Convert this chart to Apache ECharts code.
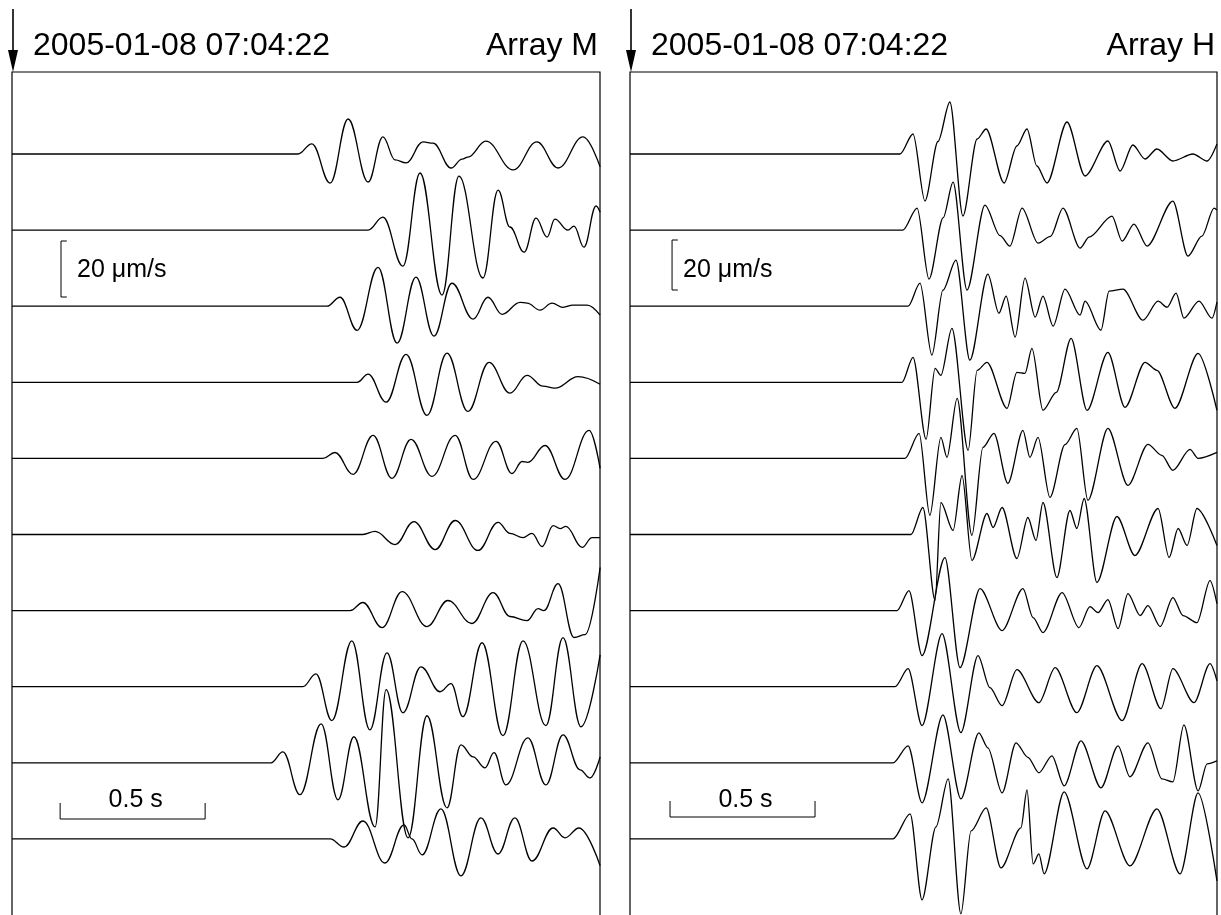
<!DOCTYPE html>
<html>
<head>
<meta charset="utf-8">
<script src="https://cdn.jsdelivr.net/npm/echarts/dist/echarts.min.js"></script>
<style>
html, body { margin: 0; padding: 0; background: #fff; }
#chart { width: 1221px; height: 915px; }
</style>
</head>
<body>
<div id="chart"></div>
<script>
// header texts
const timeLabel = '2005-01-08 07:04:22'
const arrayNames = ['Array M', 'Array H']
const ampLabel = '20 \u03bcm/s'
const timeBarLabel = '0.5 s'

// traces: [time (s), velocity (um/s)], top to bottom
const m1 = [[0,0],[0.986,0],[1.034,3.6],[1.097,-10.4],[1.159,12.5],[1.228,-10],[1.279,6.1],[1.321,-2.1],[1.359,-3.2],[1.417,4.3],[1.452,3.9],[1.514,-5],[1.552,-1.8],[1.572,-1.1],[1.634,4.6],[1.728,-5.7],[1.81,4.3],[1.883,-5],[1.969,6.1],[2.028,-4.6]]
const m2 = [[0,0],[1.228,0],[1.279,4.6],[1.348,-12.9],[1.407,20.4],[1.483,-23.2],[1.541,19.3],[1.624,-17.1],[1.676,14.3],[1.717,1.1],[1.766,-7.9],[1.807,4.3],[1.845,-2.5],[1.872,3.9],[1.917,0],[1.938,1.4],[1.972,-6.1],[2.014,8.6],[2.028,6.4]]
const m3 = [[0,0],[1.086,0],[1.131,3.2],[1.19,-8.6],[1.262,13.9],[1.328,-13.2],[1.393,10.4],[1.455,-10.7],[1.517,8.2],[1.59,-4.6],[1.641,3.2],[1.69,-2.9],[1.752,1.4],[1.776,1.1],[1.821,-1.4],[1.862,1.1],[1.9,-0.4],[1.934,0.4],[1.983,0.4],[2.028,-3.2]]
const m4 = [[0,0],[1.19,0],[1.228,2.9],[1.29,-7.1],[1.359,10],[1.431,-11.8],[1.5,10.4],[1.572,-10.4],[1.645,7.1],[1.717,-3.9],[1.776,2.5],[1.831,-1.4],[1.872,-2.1],[1.952,2],[2.028,-0.7]]
const m5 = [[0,0],[1.072,0],[1.114,2.1],[1.176,-5.7],[1.245,8.2],[1.31,-7.1],[1.376,6.8],[1.448,-6.4],[1.528,8.2],[1.59,-7.5],[1.669,6.1],[1.724,-5.4],[1.759,-1.1],[1.779,-1.4],[1.838,4.6],[1.907,-7.5],[1.99,10],[2.028,-3.6]]
const m6 = [[0,0],[1.21,0],[1.252,1.1],[1.321,-3.6],[1.386,4.6],[1.459,-5.4],[1.528,5],[1.607,-5.7],[1.676,4.3],[1.717,0.4],[1.762,-1.1],[1.793,0.4],[1.828,-4.3],[1.866,3.2],[1.89,2.1],[1.91,2.9],[1.966,-4.6],[2.0,-1.1],[2.028,-1.1]]
const m7 = [[0,0],[1.166,0],[1.21,2.9],[1.276,-6.1],[1.345,6.8],[1.431,-5.7],[1.503,3.6],[1.586,-4.6],[1.659,6.4],[1.717,-2.1],[1.776,-3.6],[1.814,0.7],[1.834,0],[1.883,9.6],[1.938,-9.6],[1.976,-8.6],[2.028,15.4]]
const m8 = [[0,0],[1.003,0],[1.048,4.6],[1.103,-12.1],[1.172,16.4],[1.234,-15.4],[1.293,12.1],[1.348,-9.3],[1.41,7.1],[1.476,-1.8],[1.514,1.1],[1.555,-10.7],[1.621,15.7],[1.693,-17.5],[1.762,16.4],[1.841,-13.9],[1.9,17.5],[1.962,-14.3],[2.028,11.4]]
const m9 = [[0,0],[0.893,0],[0.934,3.9],[0.993,-11.4],[1.066,13.9],[1.124,-13.2],[1.179,9.3],[1.252,-22.9],[1.29,26.1],[1.366,-26.8],[1.431,16.8],[1.5,-16.1],[1.548,6.4],[1.59,2.1],[1.631,-1.8],[1.662,3.6],[1.703,-7.9],[1.779,8.9],[1.841,-7.9],[1.9,10],[1.959,-2.5],[1.993,-5.4],[2.028,2.1]]
const m10 = [[0,0],[1.097,0],[1.145,-2.9],[1.21,6.4],[1.286,-8.6],[1.352,5],[1.379,0],[1.414,-5.7],[1.479,10.7],[1.548,-13.2],[1.617,7.5],[1.676,-5.4],[1.734,7.5],[1.793,-7.9],[1.866,3.9],[1.907,0.4],[1.955,3.9],[2.028,-9.6]]

const h1 = [[0,0],[0.931,0],[0.976,8],[1.017,-18.8],[1.062,5],[1.103,20.8],[1.148,-24.8],[1.197,6],[1.228,10],[1.29,-11.6],[1.334,3.2],[1.369,10],[1.403,-4.8],[1.438,-11.6],[1.507,12.8],[1.569,-8.8],[1.648,5.2],[1.69,-6.8],[1.734,3.6],[1.776,-2],[1.817,2],[1.872,-2.8],[1.941,0],[1.99,-2.8],[2.024,4]]
const h2 = [[0,0],[0.941,0],[0.99,8.8],[1.031,-19.6],[1.08,5],[1.114,19.2],[1.162,-24],[1.224,10],[1.276,-2.2],[1.31,-6.4],[1.352,8.8],[1.407,-5.2],[1.45,-2.5],[1.493,8.8],[1.552,-7.2],[1.583,-2.8],[1.662,5.6],[1.697,-4.4],[1.738,2.4],[1.783,-6.4],[1.872,11.6],[1.924,-10.4],[1.972,-2.4],[2.014,8.8],[2.024,8]]
const h3 = [[0,0],[0.959,0],[1,9.2],[1.041,-19.6],[1.079,6.4],[1.124,18.4],[1.172,-21.6],[1.234,12.8],[1.272,-2.8],[1.297,4],[1.328,-12.4],[1.362,11.2],[1.397,-4.4],[1.424,4],[1.459,-8],[1.5,6.8],[1.552,-3.6],[1.569,2],[1.624,-9.6],[1.652,6],[1.7,6.8],[1.769,-5.6],[1.821,2],[1.852,-0.4],[1.883,5.2],[1.91,-4.8],[1.962,2],[2.007,-4.8],[2.024,1.6]]
const h4 = [[0,0],[0.938,0],[0.976,10],[1.021,-22.8],[1.052,5.6],[1.072,2.8],[1.11,21.6],[1.166,-27.2],[1.197,4.8],[1.231,8],[1.3,-10.4],[1.334,4],[1.362,3.6],[1.386,13.6],[1.424,-11.2],[1.47,-4],[1.521,17.6],[1.576,-11.2],[1.648,12],[1.707,-10],[1.776,8],[1.817,4.8],[1.879,-10.4],[1.959,11.6],[2.024,-11.2]]
const h5 = [[0,0],[0.948,0],[0.997,10],[1.034,-22.8],[1.072,8.4],[1.093,0.4],[1.128,24],[1.179,-30.8],[1.217,4.4],[1.255,10],[1.303,-10],[1.355,11.2],[1.379,0.4],[1.407,8.4],[1.448,-15.6],[1.5,5.5],[1.541,12],[1.579,-16.8],[1.648,12],[1.717,-10.8],[1.786,5.6],[1.834,1.2],[1.872,-4.8],[1.931,3.6],[1.959,0],[2.024,2.4]]
const h6 = [[0,0],[0.969,0],[1.01,10.8],[1.052,-26.4],[1.072,12.8],[1.114,1.6],[1.145,23.6],[1.179,-10.4],[1.231,8.4],[1.252,2.8],[1.283,10.8],[1.334,-9.6],[1.372,6.8],[1.4,-2.4],[1.424,12.8],[1.472,-17.2],[1.517,9.6],[1.541,2.4],[1.566,14.4],[1.61,-19.2],[1.679,7.2],[1.741,-8.4],[1.821,10.4],[1.859,-9.2],[1.89,2.4],[1.921,-4.4],[1.955,10.4],[2.024,-4.4]]
const h7 = [[0,0],[0.921,0],[0.962,8],[1.007,-18],[1.086,21.2],[1.138,-22.8],[1.207,8.8],[1.283,-8],[1.355,8.8],[1.39,-2.8],[1.424,-8.8],[1.49,7.2],[1.548,-6.8],[1.586,1.6],[1.614,-0.8],[1.648,4.4],[1.683,-7.2],[1.717,6.8],[1.759,-2],[1.786,2],[1.828,-6.4],[1.872,5.2],[1.907,-2],[1.955,-4.8],[2,12],[2.024,2.8]]
const h8 = [[0,0],[0.914,0],[0.959,7.2],[1.007,-15.6],[1.076,21.2],[1.141,-18.4],[1.2,12.4],[1.241,-0.4],[1.283,-7.6],[1.334,6.8],[1.41,-6.4],[1.466,7.6],[1.541,-10.4],[1.61,8.4],[1.697,-13.6],[1.766,9.2],[1.831,-8.8],[1.872,7.2],[1.945,-6.4],[2,9.2],[2.024,2.4]]
const h9 = [[0,0],[0.907,0],[0.959,6.8],[1.007,-16],[1.079,19.2],[1.141,-14.4],[1.203,12],[1.234,6],[1.283,-12],[1.331,8],[1.372,2.2],[1.41,-4],[1.455,2.8],[1.497,-9.2],[1.555,8.8],[1.624,-10],[1.683,6.8],[1.724,-5.6],[1.786,8],[1.834,-6.4],[1.872,-7.6],[1.91,15.2],[1.959,-11.2],[1.99,-0.4],[2.024,0.8]]
const h10 = [[0,0],[0.907,0],[0.966,10],[1.007,-24.4],[1.055,4.8],[1.097,24],[1.141,-30],[1.176,3.2],[1.228,12.4],[1.279,-11.6],[1.348,4.4],[1.369,19.6],[1.39,-10],[1.41,-6],[1.428,-14],[1.497,18.8],[1.576,-12],[1.638,11.2],[1.724,-10.8],[1.817,12],[1.897,-14],[1.959,18.4],[2.024,-16.8]]

const tracesM = [m1, m2, m3, m4, m5, m6, m7, m8, m9, m10]
const tracesH = [h1, h2, h3, h4, h5, h6, h7, h8, h9, h10]

const font = "'Liberation Sans', Arial, Helvetica, sans-serif"

// panel layout (px per um/s differs between the two arrays)
const panels = [
    { left: 12, width: 588, pxPerUnit: 2.8, traces: tracesM, smooth: 0.4,
      bar: 0.166, barY: 819, amp: 0.169, ampTop: 241 },
    { left: 630, width: 587, pxPerUnit: 2.5, traces: tracesH, smooth: 0.3,
      bar: 0.138, barY: 817, amp: 0.145, ampTop: 240 }
]
const gridTop = 72
const gridHeight = 843
const firstBase = 82
const traceGap = 76.1

function init () {
    const chart = echarts.init(document.getElementById('chart'), null, { renderer: 'canvas' })
    const grid = []
    const xAxis = []
    const yAxis = []
    const series = []
    const graphic = []
    panels.forEach((p, gi) => {
        const k = p.pxPerUnit
        grid.push({
            left: p.left, top: gridTop, width: p.width, height: gridHeight,
            outerBoundsMode: 'none', containLabel: false, show: false
        })
        xAxis.push({ type: 'value', gridIndex: gi, min: 0, max: p.width / 290, show: false })
        yAxis.push({ type: 'value', gridIndex: gi, min: -gridHeight / k, max: 0, show: false })
        p.traces.forEach((tr, i) => {
            const base = -(firstBase + traceGap * i) / k
            series.push({
                type: 'line', xAxisIndex: gi, yAxisIndex: gi,
                data: tr.map(d => [d[0], base + d[1]]),
                symbol: 'none', smooth: p.smooth, smoothMonotone: 'x',
                lineStyle: { color: '#000', width: 1.3 },
                silent: true, animation: false
            })
        })
        // 0.5 s scale bar
        const yb = -(p.barY - gridTop) / k
        const yt = yb + 16 / k
        series.push({
            type: 'line', xAxisIndex: gi, yAxisIndex: gi, symbol: 'none',
            data: [[p.bar, yt], [p.bar, yb], [p.bar + 0.5, yb], [p.bar + 0.5, yt]],
            lineStyle: { color: '#000', width: 1 }, silent: true, animation: false
        })
        // 20 um/s bracket
        const ya = -(p.ampTop - gridTop) / k
        series.push({
            type: 'line', xAxisIndex: gi, yAxisIndex: gi, symbol: 'none',
            data: [[p.amp + 0.02, ya], [p.amp, ya], [p.amp, ya - 20], [p.amp + 0.02, ya - 20]],
            lineStyle: { color: '#000', width: 1 }, silent: true, animation: false
        })

        // open-bottomed frame, arrow and labels
        const x = p.left + 1
        const r = p.left + p.width
        graphic.push(
            { type: 'polyline', shape: { points: [[p.left, 920], [p.left, gridTop], [r, gridTop], [r, 920]] },
              style: { stroke: '#000', lineWidth: 1.2, fill: null } },
            { type: 'line', shape: { x1: x, y1: 9, x2: x, y2: 55 }, style: { stroke: '#000', lineWidth: 1.6 } },
            { type: 'polygon', shape: { points: [[x - 5, 50], [x + 5, 50], [x, 72]] }, style: { fill: '#000' } },
            { type: 'text', x: p.left + 21, y: 46,
              style: { text: timeLabel, font: '32px ' + font, fill: '#000', textAlign: 'left', textVerticalAlign: 'middle' } },
            { type: 'text', x: r - 2, y: 46,
              style: { text: arrayNames[gi], font: '32px ' + font, fill: '#000', textAlign: 'right', textVerticalAlign: 'middle' } },
            { type: 'text', x: p.left + (gi === 0 ? 65 : 53), y: 270,
              style: { text: ampLabel, font: '25px ' + font, fill: '#000', textAlign: 'left', textVerticalAlign: 'middle' } },
            { type: 'text', x: p.left + (p.bar + 0.25) * 290 + 3, y: 800,
              style: { text: timeBarLabel, font: '25px ' + font, fill: '#000', textAlign: 'center', textVerticalAlign: 'middle' } }
        )
    })

    chart.setOption({
        animation: false,
        backgroundColor: '#fff',
        grid: grid,
        xAxis: xAxis,
        yAxis: yAxis,
        series: series,
        graphic: graphic
    })
}
init()
</script>
</body>
</html>
